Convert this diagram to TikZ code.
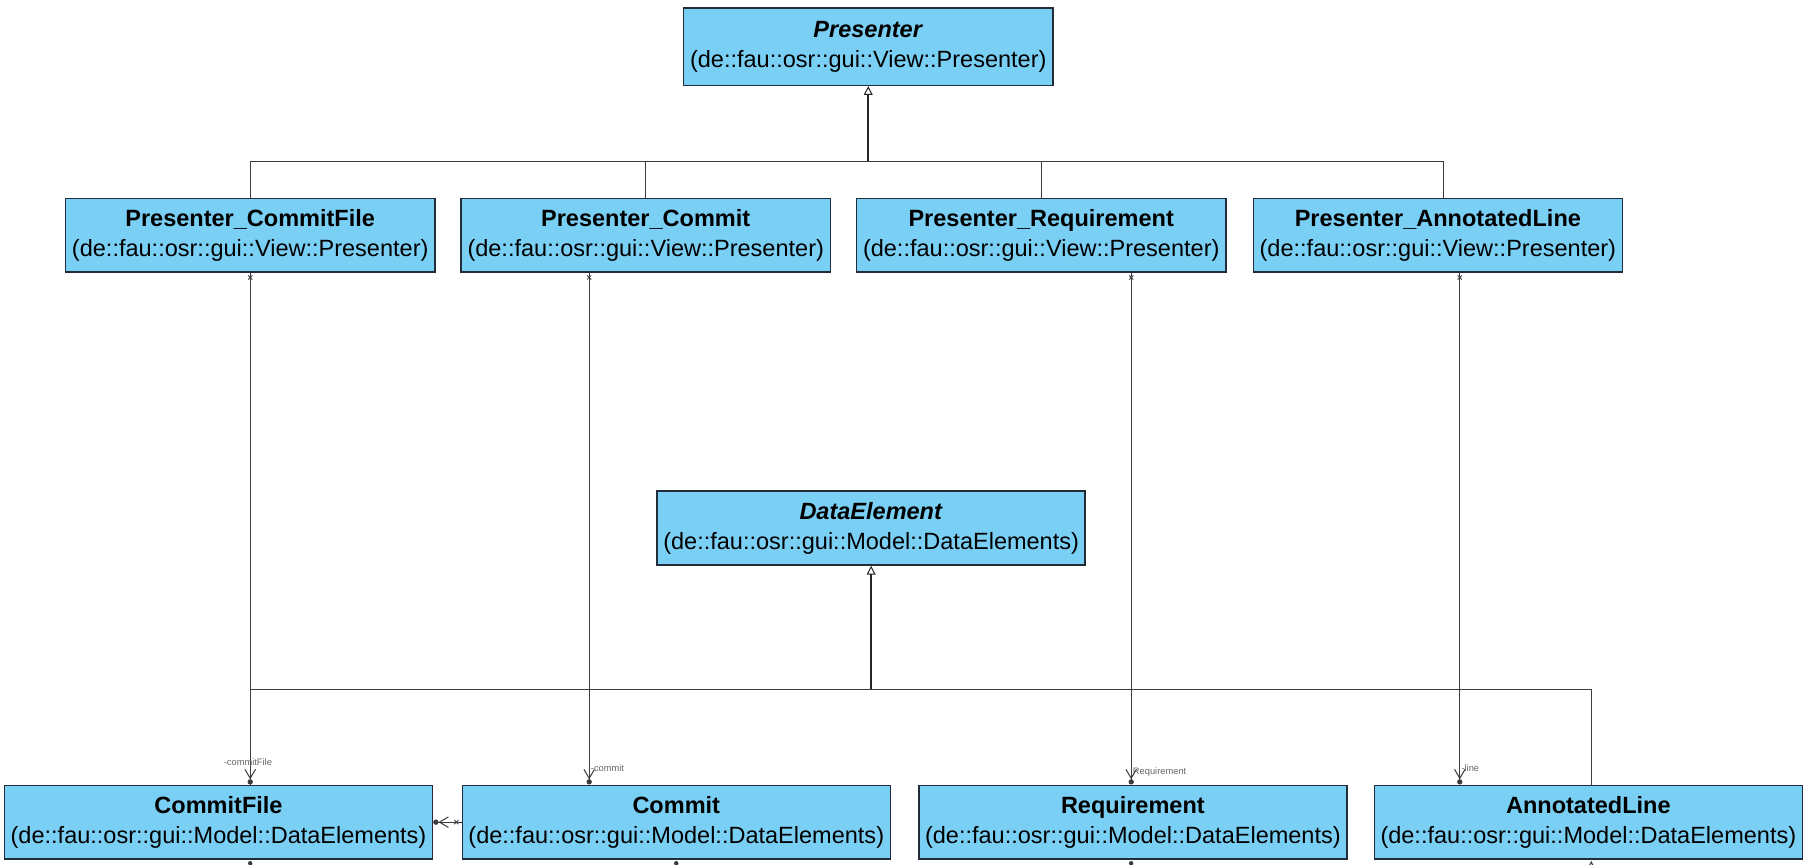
\documentclass[tikz,border=0pt]{standalone}
\usepackage{fontspec}
\setmainfont{Liberation Sans}
\usepackage{xcolor}
\usepackage{tikz}
\usetikzlibrary{arrows.meta}

\definecolor{clsfill}{RGB}{122,207,245}
\definecolor{clsline}{RGB}{35,45,58}
\definecolor{conline}{RGB}{60,60,60}

\tikzset{
  cls/.style={draw=clsline, fill=clsfill, line width=0.35pt, minimum height=0.64cm, inner sep=0pt, align=center, font=\fontsize{5.8}{7.4}\selectfont},
  gen/.style={draw=conline, line width=0.25pt},
  trunk/.style={draw=black!85, line width=0.6pt, -{Triangle[open, length=2.2pt, width=2.2pt, line width=0.25pt]}},
  assoc/.style={draw=conline, line width=0.25pt, -{Straight Barb[length=2.2pt, width=2.6pt, line width=0.25pt, sep=0pt] Circle[length=1.3pt]}},
  role/.style={font=\fontsize{2.3}{2.5}\selectfont, text=black!60, inner sep=0.3pt},
  xcross/.pic={\draw[conline, line width=0.2pt] (-1.8,-1.8) -- (1.8,1.8) (-1.8,1.8) -- (1.8,-1.8);}
}

\begin{document}
\begin{tikzpicture}[x=0.01cm, y=-0.01cm]
    \useasboundingbox (0,0) rectangle (1568,750);

    % View classes
    \node[cls, minimum width=3.2cm, minimum height=0.67cm] (pres) at (753,40.5) {\textbf{\textit{Presenter}}\\(de::fau::osr::gui::View::Presenter)};
    \node[cls, minimum width=3.2cm] (pcf) at (217,204) {\textbf{Presenter\_CommitFile}\\(de::fau::osr::gui::View::Presenter)};
    \node[cls, minimum width=3.2cm] (pc) at (560,204) {\textbf{Presenter\_Commit}\\(de::fau::osr::gui::View::Presenter)};
    \node[cls, minimum width=3.2cm] (pr) at (903,204) {\textbf{Presenter\_Requirement}\\(de::fau::osr::gui::View::Presenter)};
    \node[cls, minimum width=3.2cm] (pal) at (1247,204) {\textbf{Presenter\_AnnotatedLine}\\(de::fau::osr::gui::View::Presenter)};

    % Model classes
    \node[cls, minimum width=3.71cm] (de) at (755.5,458) {\textbf{\textit{DataElement}}\\(de::fau::osr::gui::Model::DataElements)};
    \node[cls, minimum width=3.71cm] (cf) at (189.5,713) {\textbf{CommitFile}\\(de::fau::osr::gui::Model::DataElements)};
    \node[cls, minimum width=3.71cm] (cm) at (586.5,713) {\textbf{Commit}\\(de::fau::osr::gui::Model::DataElements)};
    \node[cls, minimum width=3.71cm] (rq) at (982.5,713) {\textbf{Requirement}\\(de::fau::osr::gui::Model::DataElements)};
    \node[cls, minimum width=3.71cm] (al) at (1377.5,713) {\textbf{AnnotatedLine}\\(de::fau::osr::gui::Model::DataElements)};

    % Generalization to Presenter
    \coordinate (pjoin) at (pres.south |- 0,140);
    \draw[trunk] (pjoin) -- (pres.south);
    \draw[gen] (pcf.north) |- (pjoin) -| ([xshift=0.05cm]pal.north);
    \draw[gen] (pc.north) -- (pc.north |- pjoin);
    \draw[gen] (pr.north) -- (pr.north |- pjoin);

    % Generalization to DataElement
    \coordinate (djoin) at (de.south |- 0,598);
    \coordinate (alin) at ([xshift=0.025cm]al.north);
    \draw[trunk] (djoin) -- (de.south);
    \draw[gen] (pcf.south |- cf.north) |- (djoin) -| (alin);

    % Associations
    \coordinate (pcout) at ([xshift=-0.49cm]pc.south);
    \coordinate (prout) at ([xshift=0.78cm]pr.south);
    \coordinate (palout) at ([xshift=0.19cm]pal.south);
    \draw[assoc] (pcf.south) -- node[role, pos=0.957, xshift=-0.02cm] {-commitFile} (pcf.south |- cf.north);
    \draw[assoc] (pcout) -- node[role, pos=0.969, anchor=west] {-commit} (pcout |- cm.north);
    \draw[assoc] (prout) -- node[role, pos=0.975, anchor=west] {Requirement} (prout |- rq.north);
    \draw[assoc] (palout) -- node[role, pos=0.969, anchor=west] {-line} (palout |- al.north);
    \foreach \c in {pcf.south, pcout, prout, palout}
        \path (\c) ++(0,4) pic {xcross};
    \draw[assoc] (cm.west) -- (cf.east);
    \path (cm.west) ++(-4.5,0) pic {xcross};

    % stubs leaving at the bottom
    \fill[conline] (pcf.south |- cf.south) ++(0,3) circle[radius=0.55pt];
    \fill[conline] (cm.south) ++(0,3) circle[radius=0.55pt];
    \fill[conline] (rq.south) ++(-1.5,3) circle[radius=0.55pt];
    \draw[gen] (alin |- al.south) ++(-2,6) -- ++(2,-4) -- ++(2,4);
\end{tikzpicture}
\end{document}
